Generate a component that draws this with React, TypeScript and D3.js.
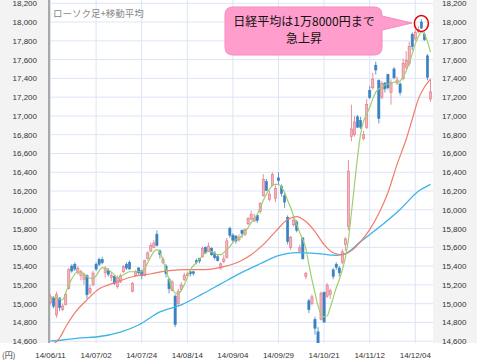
import * as d3 from 'd3'

// 日経平均 2014/06/11 - 2014/12/11 (trading day index 0..125)
const tickDays = [0, 15, 30, 45, 60, 75, 90, 105, 120]
const tickLabels = ['14/06/11', '14/07/02', '14/07/24', '14/08/14', '14/09/04', '14/09/29', '14/10/21', '14/11/12', '14/12/04']
const priceTicks = [14600, 14800, 15000, 15200, 15400, 15600, 15800, 16000, 16200, 16400, 16600, 16800, 17000, 17200, 17400, 17600, 17800, 18000, 18200]

const opens = [
  15010, 15060, 14880, 15060, 14940, 14990, 15160, 15400, 15420, 15330,
  15300, 15260, 15300, 15120, 15200, 15420, 15470, 15470, 15330, 15350,
  15280, 15290, 15180, 15230, 15340, 15420, 15440, 15130, 15300, 15380,
  15350, 15300, 15480, 15560, 15600, 15740, 15560, 15440, 15400, 15260,
  15140, 15080, 15000, 15150, 15260, 15300, 15340, 15340, 15460, 15480,
  15500, 15600, 15560, 15590, 15540, 15500, 15380, 15450, 15490, 15800,
  15730, 15720, 15680, 15780, 15740, 15850, 15900, 15880, 15940, 15980,
  16150, 16300, 16110, 16260, 16120, 16340, 16250, 16150, 15920, 15600,
  15840, 15870, 15560, 15700, 15290, 15030, 15000, 14830, 14700, 14830,
  15120, 15080, 15100, 15360, 15420, 15380, 15440, 15630, 15820, 16780,
  16800, 16990, 16950, 16760, 16880, 17270, 17300, 17540, 17380, 17200,
  17350, 17440, 17250, 17500, 17350, 17340, 17400, 17520, 17560, 17870,
  17820, 17900, 18000, 17870, 17640, 17180,
]
const highs = [
  15100, 15080, 15130, 15070, 15000, 15120, 15380, 15420, 15440, 15400,
  15360, 15330, 15310, 15200, 15350, 15440, 15490, 15500, 15400, 15380,
  15340, 15300, 15300, 15320, 15410, 15440, 15460, 15230, 15360, 15390,
  15360, 15470, 15560, 15650, 15680, 15780, 15580, 15500, 15420, 15280,
  15250, 15100, 15160, 15230, 15330, 15340, 15350, 15350, 15480, 15490,
  15610, 15610, 15650, 15600, 15560, 15520, 15440, 15520, 15700, 15820,
  15750, 15730, 15740, 15790, 15800, 15920, 15990, 15960, 15950, 16080,
  16380, 16330, 16200, 16400, 16260, 16400, 16270, 16180, 15940, 15720,
  15940, 15890, 15630, 15710, 15340, 15050, 15100, 14860, 14750, 15130,
  15130, 15220, 15160, 15380, 15440, 15400, 15580, 15710, 16530, 17120,
  17000, 17010, 16990, 16840, 17180, 17320, 17460, 17580, 17390, 17370,
  17360, 17450, 17390, 17520, 17420, 17360, 17610, 17690, 17790, 17890,
  17920, 17960, 18030, 17890, 17660, 17390,
]
const lows = [
  14990, 14950, 14850, 14920, 14920, 14980, 15150, 15330, 15350, 15310,
  15250, 15200, 15050, 15100, 15190, 15350, 15400, 15420, 15280, 15290,
  15240, 15200, 15160, 15220, 15330, 15360, 15360, 15120, 15290, 15310,
  15260, 15290, 15460, 15550, 15590, 15610, 15480, 15420, 15280, 15110,
  15130, 14750, 14980, 15140, 15240, 15270, 15290, 15300, 15420, 15430,
  15490, 15530, 15550, 15510, 15470, 15450, 15360, 15430, 15480, 15700,
  15650, 15640, 15660, 15700, 15720, 15840, 15890, 15870, 15860, 15960,
  16140, 16200, 16090, 16250, 16080, 16270, 16140, 16020, 15630, 15570,
  15820, 15760, 15540, 15470, 15260, 14900, 14980, 14670, 14530, 14820,
  14800, 15060, 15050, 15260, 15360, 15290, 15420, 15560, 15780, 16730,
  16780, 16870, 16860, 16740, 16860, 17180, 17280, 17440, 16920, 17180,
  17250, 17280, 17120, 17390, 17330, 17220, 17380, 17500, 17530, 17700,
  17800, 17880, 17930, 17800, 17380, 17150,
]
const closes = [
  15069, 14973, 15097, 14960, 14975, 15100, 15361, 15349, 15369, 15376,
  15340, 15308, 15095, 15162, 15326, 15369, 15420, 15437, 15379, 15314,
  15302, 15216, 15280, 15296, 15395, 15379, 15370, 15215, 15343, 15328,
  15300, 15457, 15540, 15618, 15646, 15620, 15523, 15474, 15320, 15159,
  15232, 14778, 15130, 15200, 15300, 15314, 15318, 15322, 15440, 15454,
  15586, 15539, 15613, 15521, 15490, 15459, 15424, 15476, 15668, 15728,
  15676, 15668, 15705, 15749, 15788, 15909, 15948, 15911, 15888, 16067,
  16321, 16205, 16167, 16374, 16229, 16310, 16173, 16082, 15661, 15708,
  15890, 15783, 15595, 15478, 15320, 14936, 15073, 14738, 14532, 15111,
  14804, 15195, 15138, 15291, 15388, 15329, 15553, 15690, 16413, 16862,
  16937, 16880, 16880, 16800, 17124, 17197, 17392, 17490, 16973, 17344,
  17288, 17300, 17357, 17407, 17383, 17248, 17560, 17590, 17740, 17740,
  17887, 17920, 17935, 17813, 17412, 17257,
]

// 移動平均 (at sample days)
const ma5Days = [0, 2, 4, 5, 7, 9, 11, 12, 14, 15, 17, 19, 21, 22, 24, 26, 28, 30, 31, 32, 33, 34, 35, 36, 37, 38, 39, 40, 41, 42, 43, 44, 45, 46, 47, 48, 50, 51, 52, 53, 54, 55, 56, 57, 58, 59, 60, 61, 62, 63, 64, 65, 66, 67, 68, 69, 70, 71, 72, 73, 74, 75, 76, 77, 78, 79, 80, 81, 82, 83, 84, 85, 86, 87, 88, 89, 90, 91, 92, 93, 94, 95, 96, 97, 98, 99, 100, 101, 102, 103, 104, 105, 106, 107, 108, 109, 110, 111, 112, 113, 114, 115, 116, 117, 118, 119, 120, 121, 122, 123, 124, 125]
const ma5Values = [15074, 15062, 15041, 15116, 15266, 15340, 15319, 15287, 15266, 15297, 15383, 15362, 15308, 15276, 15308, 15340, 15340, 15340, 15372, 15436, 15501, 15554, 15575, 15543, 15469, 15362, 15255, 15169, 15116, 15105, 15137, 15201, 15276, 15362, 15404, 15436, 15511, 15543, 15554, 15554, 15533, 15522, 15522, 15543, 15575, 15608, 15650, 15682, 15704, 15725, 15768, 15810, 15864, 15907, 15950, 16025, 16100, 16164, 16217, 16260, 16271, 16271, 16239, 16185, 16100, 16025, 15928, 15843, 15757, 15682, 15586, 15415, 15255, 15116, 14977, 14891, 14859, 14870, 14955, 15062, 15169, 15255, 15362, 15490, 15682, 15971, 16271, 16560, 16805, 16944, 17019, 17093, 17179, 17254, 17286, 17307, 17329, 17340, 17350, 17361, 17361, 17372, 17415, 17479, 17565, 17661, 17768, 17843, 17896, 17870, 17793, 17680]
const ma25Days = [0, 3, 5, 8, 12, 16, 20, 27, 33, 39, 45, 51, 57, 62, 66, 70, 74, 78, 81, 84, 87, 90, 93, 96, 99, 102, 105, 108, 111, 114, 117, 119, 121, 123, 125]
const ma25Values = [14549, 14634, 14752, 14902, 15041, 15158, 15211, 15287, 15319, 15351, 15362, 15362, 15394, 15447, 15522, 15629, 15768, 15896, 15928, 15875, 15768, 15629, 15543, 15522, 15565, 15661, 15789, 15960, 16185, 16484, 16751, 16965, 17179, 17307, 17393]
const ma75Days = [0, 4, 9, 15, 23, 29, 36, 43, 50, 56, 62, 69, 75, 81, 88, 94, 97, 102, 108, 115, 121, 125]
const ma75Values = [14602, 14613, 14634, 14645, 14698, 14773, 14912, 14987, 15104, 15211, 15318, 15425, 15511, 15543, 15533, 15516, 15533, 15661, 15811, 16004, 16197, 16271]

const W = 477
const H = 363
const plotL = 49
const plotR = 433
const plotB = 343

const x = d3.scaleLinear().domain([0, 125]).range([50.5, 430.5])
const y = d3.scaleLinear().domain([14581, 18235]).range([plotB, 0])

const UP = '#f3b3bb'
const UP_LINE = '#e27585'
const DOWN = '#3a82c2'

export default function App() {
  const line = d3
    .line<[number, number]>()
    .x((d) => x(d[0]))
    .y((d) => y(d[1]))
    .curve(d3.curveMonotoneX)

  const ma5 = line(ma5Days.map((d, i) => [d, ma5Values[i]]))
  const ma25 = line(ma25Days.map((d, i) => [d, ma25Values[i]]))
  const ma75 = line(ma75Days.map((d, i) => [d, ma75Values[i]]))

  const font = '"Liberation Sans", Arial, sans-serif'
  const jpFont = '"Noto Sans CJK JP", sans-serif'

  return (
    <svg width={W} height={H} style={{ position: 'absolute', left: 0, top: 0, background: '#fff' }}>
      <defs>
        <clipPath id="plot">
          <rect x={plotL} y={0} width={plotR - plotL} height={plotB} />
        </clipPath>
      </defs>

      {/* side panels */}
      <rect x={0} y={0} width={plotL} height={plotB} fill="#f3f3f3" />
      <rect x={plotR} y={0} width={W - plotR} height={plotB} fill="#f3f3f3" />

      {/* grid */}
      {priceTicks.map((p) => (
        <line key={p} x1={plotL} x2={plotR} y1={y(p)} y2={y(p)} stroke="#dce5f6" strokeWidth={1} />
      ))}
      {tickDays.map((d) => (
        <line key={d} x1={x(d)} x2={x(d)} y1={0} y2={plotB} stroke="#dce5f6" strokeWidth={1} />
      ))}

      {/* candles */}
      <g clipPath="url(#plot)">
        {closes.map((c, i) => {
          const o = opens[i]
          const up = c >= o
          const cx = x(i)
          const top = y(Math.max(o, c))
          const bh = Math.max(1, y(Math.min(o, c)) - top)
          return (
            <g key={i}>
              <line x1={cx} x2={cx} y1={y(highs[i])} y2={y(lows[i])} stroke={up ? UP_LINE : DOWN} strokeWidth={0.8} />
              <rect
                x={cx - 1.1}
                y={top}
                width={2.2}
                height={bh}
                fill={up ? UP : DOWN}
                stroke={up ? UP_LINE : DOWN}
                strokeWidth={0.6}
              />
            </g>
          )
        })}
        <path d={ma75 ?? ''} fill="none" stroke="#3db3ea" strokeWidth={1.3} />
        <path d={ma25 ?? ''} fill="none" stroke="#f27c66" strokeWidth={1.2} />
        <path d={ma5 ?? ''} fill="none" stroke="#9dd06c" strokeWidth={1.2} />
      </g>

      {/* left border */}
      <line x1={plotL} x2={plotL} y1={0} y2={plotB} stroke="#a8a8a8" strokeWidth={2} />

      {/* price labels */}
      {priceTicks.map((p) => (
        <g key={p} fontFamily={font} fontSize={8} fill="#333">
          <text x={37} y={y(p) + 3} textAnchor="end">{d3.format(',')(p)}</text>
          <text x={442} y={y(p) + 3}>{d3.format(',')(p)}</text>
        </g>
      ))}

      {/* date labels */}
      {tickDays.map((d, i) => (
        <text key={d} x={x(d)} y={358} textAnchor="middle" fontFamily={font} fontSize={8} fill="#333">
          {tickLabels[i]}
        </text>
      ))}
      <text x={2} y={358} fontFamily={jpFont} fontSize={8} fill="#333">(円)</text>

      <text x={53} y={17} fontFamily={jpFont} fontSize={9.5} fill="#888">ローソク足+移動平均</text>

      {/* callout */}
      <path
        d="M233,7 H374 Q382,7 382,15 V16 L412,23 L382,30 V47 Q382,55 374,55 H233 Q225,55 225,47 V15 Q225,7 233,7 Z"
        fill="#ff9dcc"
        stroke="#f58ac0"
        strokeWidth={1}
      />
      <text x={304} y={26} textAnchor="middle" fontFamily={jpFont} fontSize={12} fill="#111">
        日経平均は1万8000円まで
      </text>
      <text x={304} y={43} textAnchor="middle" fontFamily={jpFont} fontSize={12} fill="#111">
        急上昇
      </text>
      <ellipse cx={x(122)} cy={y(17985)} rx={7} ry={8} fill="none" stroke="#e00000" strokeWidth={1.5} />
    </svg>
  )
}
